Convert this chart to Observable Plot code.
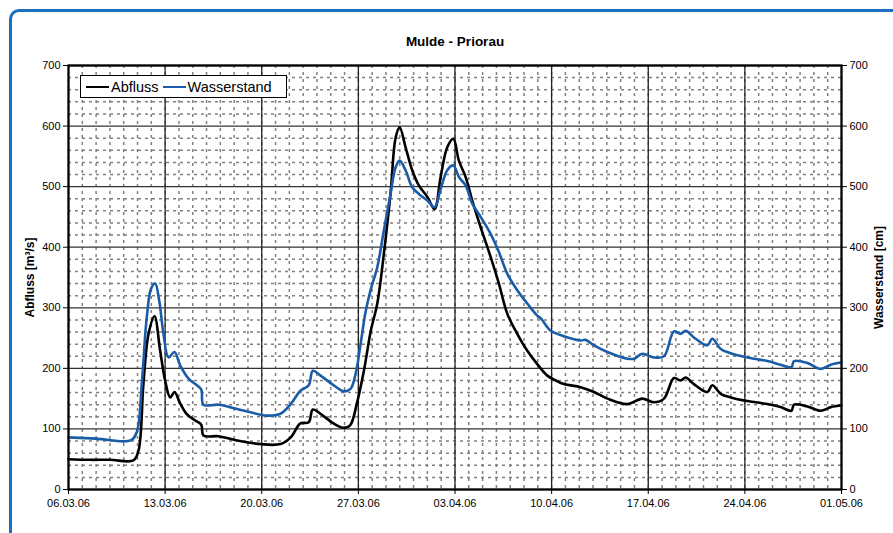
<!DOCTYPE html>
<html>
<head>
<meta charset="utf-8">
<script src="https://cdn.jsdelivr.net/npm/d3@7"></script>
<script src="https://cdn.jsdelivr.net/npm/@observablehq/plot@0.6"></script>
<style>
  html, body { margin: 0; padding: 0; background: #fff; width: 893px; height: 533px; overflow: hidden; }
  body { position: relative; font-family: "Liberation Sans", Arial, sans-serif; }
  #frame { position: absolute; left: 9px; top: 9px; width: 1000px; height: 1000px; border: 3px solid #1b6fc0; border-radius: 10px; box-sizing: border-box; }
  #chart { position: absolute; left: 0; top: 0; }
  #legend { position: absolute; left: 80px; top: 75px; width: 207px; height: 23px; background: #fff; border: 1px solid #000; box-sizing: border-box; display: flex; align-items: center; padding: 0 0 0 5px; font-size: 14.5px; color: #000; }
  #legend .item { display: flex; align-items: center; margin-right: 4px; }
  #legend .sw { width: 23px; height: 0; border-top: 2.5px solid; margin-right: 2px; }
</style>
</head>
<body>
<div id="frame"></div>
<div id="chart"></div>
<div id="legend"></div>
<script>
// ---- data ----
const title = "Mulde - Priorau";
const yLabelLeft = "Abfluss [m³/s]";
const yLabelRight = "Wasserstand [cm]";
const seriesNames = ["Abfluss", "Wasserstand"];
const seriesColors = ["#000000", "#1a5ca8"];
const startDate = "06.03.06";
const xTickLabels = ["06.03.06","13.03.06","20.03.06","27.03.06","03.04.06","10.04.06","17.04.06","24.04.06","01.05.06"];
const yTicks = [0,100,200,300,400,500,600,700];

// days since 06.03.06
const abflussDays = [0,1.5,3,4.7,5.07,5.43,5.8,6.23,6.64,7.0,7.37,7.68,8.09,8.55,9.18,9.62,9.78,10.87,12.0,13.9,15.36,16.1,16.8,17.4,17.7,18.26,19.2,19.9,20.4,20.9,21.4,21.9,22.37,22.85,23.33,23.7,23.99,24.42,24.9,25.38,26.0,26.52,26.96,27.44,27.88,28.28,28.77,29.25,29.86,30.58,31.18,31.79,32.51,33.24,33.96,34.69,35.3,35.89,37.1,38.07,39.04,40.49,41.57,42.41,43.14,43.86,44.35,44.71,45.31,46.28,46.64,47.25,47.97,49.18,50.63,51.59,52.37,52.56,53.53,54.49,55.22,56];
const abflussValues = [50,49,49,48,64,175,257,286,229,180,152,161,142,125,114,107,89,88,82,75,75,86,109,111,132,125,109,102,106,143,196,262,307,390,489,581,598,565,527,502,483,463,516,565,579,543,516,477,433,384,340,290,257,229,207,188,180,174,169,161,150,141,150,144,150,184,180,185,174,161,172,158,152,146,141,136,130,140,137,130,136,139];

const wasserDays = [0,2,4.5,4.95,5.31,5.67,5.99,6.28,6.57,6.88,7.25,7.68,8.09,8.7,9.3,9.62,9.78,10.87,12.22,14.4,15.36,16.1,16.8,17.4,17.7,18.26,19.22,19.95,20.43,20.8,21.16,21.52,21.88,22.37,22.85,23.33,23.7,23.99,24.42,24.9,25.38,26.0,26.52,26.96,27.44,27.88,28.28,28.77,29.25,29.86,30.58,31.18,31.79,32.51,33.24,33.96,34.2,34.69,34.93,35.89,37.1,37.46,38.07,39.04,40.49,40.97,41.57,42.41,43.14,43.86,44.35,44.71,45.31,46.28,46.64,47.25,47.97,49.18,50.63,51.59,52.37,52.56,53.53,54.49,55.22,56];
const wasserValues = [86,84,81,95,175,284,332,340,312,257,218,227,205,183,172,165,140,140,133,122,125,141,163,172,196,188,172,162,166,191,240,293,329,367,428,488,532,543,527,499,488,477,466,496,527,535,516,502,472,450,422,392,356,329,307,287,283,268,262,253,246,247,238,227,216,216,224,218,220,261,257,262,251,238,249,232,225,218,212,206,202,212,209,199,206,210];

// ---- build ----
const parse = d3.utcParse("%d.%m.%y");
const t0 = parse(startDate);
const DAY = 86400000;
const toDate = d => new Date(t0.getTime() + d * DAY);
const xTicks = xTickLabels.map(parse);
const tEnd = xTicks[xTicks.length - 1];

const rows = [];
abflussDays.forEach((d, i) => rows.push({series: seriesNames[0], date: toDate(d), value: abflussValues[i]}));
wasserDays.forEach((d, i) => rows.push({series: seriesNames[1], date: toDate(d), value: wasserValues[i]}));

const dailyTicks = d3.utcDay.range(t0, tEnd);
const minorY = d3.range(0, 701, 20).filter(v => v % 100 !== 0);

const chart = Plot.plot({
  width: 893,
  height: 533,
  marginLeft: 68,
  marginRight: 52,
  marginTop: 65,
  marginBottom: 44,
  style: {fontFamily: "'Liberation Sans', Arial, sans-serif", fontSize: "11px", color: "#000", background: "transparent", overflow: "visible"},
  x: {type: "utc", domain: [t0, tEnd]},
  y: {domain: [0, 700]},
  color: {domain: seriesNames, range: seriesColors},
  marks: [
    Plot.ruleX(dailyTicks, {stroke: "#808080", strokeWidth: 1.5, strokeDasharray: "3,4"}),
    Plot.ruleY(minorY, {stroke: "#808080", strokeWidth: 1.5, strokeDasharray: "3,4"}),
    Plot.ruleX(xTicks, {stroke: "#222", strokeWidth: 1.3}),
    Plot.ruleY(yTicks, {stroke: "#333", strokeWidth: 1.3}),
    Plot.line(rows, {x: "date", y: "value", z: "series", stroke: "series", strokeWidth: 2.6, curve: "catmull-rom"}),
    Plot.frame({stroke: "#000", strokeWidth: 2.2}),
    Plot.axisX({ticks: xTicks, tickFormat: d3.utcFormat("%d.%m.%y"), tickSize: 5, tickPadding: 5, label: null, fontSize: 11}),
    Plot.axisY({anchor: "left", ticks: yTicks, tickSize: 5, tickPadding: 3, label: null, fontSize: 11}),
    Plot.axisY({anchor: "right", ticks: yTicks, tickSize: 5, tickPadding: 3, label: null, fontSize: 11}),
    Plot.text([title], {frameAnchor: "top", dy: -29, fontWeight: "bold", fontSize: 13.5, textAnchor: "middle"}),
    Plot.text([yLabelLeft], {frameAnchor: "left", dx: -38, rotate: -90, fontWeight: "bold", fontSize: 12, textAnchor: "middle"}),
    Plot.text([yLabelRight], {frameAnchor: "right", dx: 38, rotate: -90, fontWeight: "bold", fontSize: 12, textAnchor: "middle"})
  ]
});
document.getElementById("chart").appendChild(chart);

const legend = document.getElementById("legend");
seriesNames.forEach((name, i) => {
  const item = document.createElement("div");
  item.className = "item";
  const sw = document.createElement("span");
  sw.className = "sw";
  sw.style.borderTopColor = seriesColors[i];
  const label = document.createElement("span");
  label.textContent = name;
  item.appendChild(sw);
  item.appendChild(label);
  legend.appendChild(item);
});
</script>
</body>
</html>
